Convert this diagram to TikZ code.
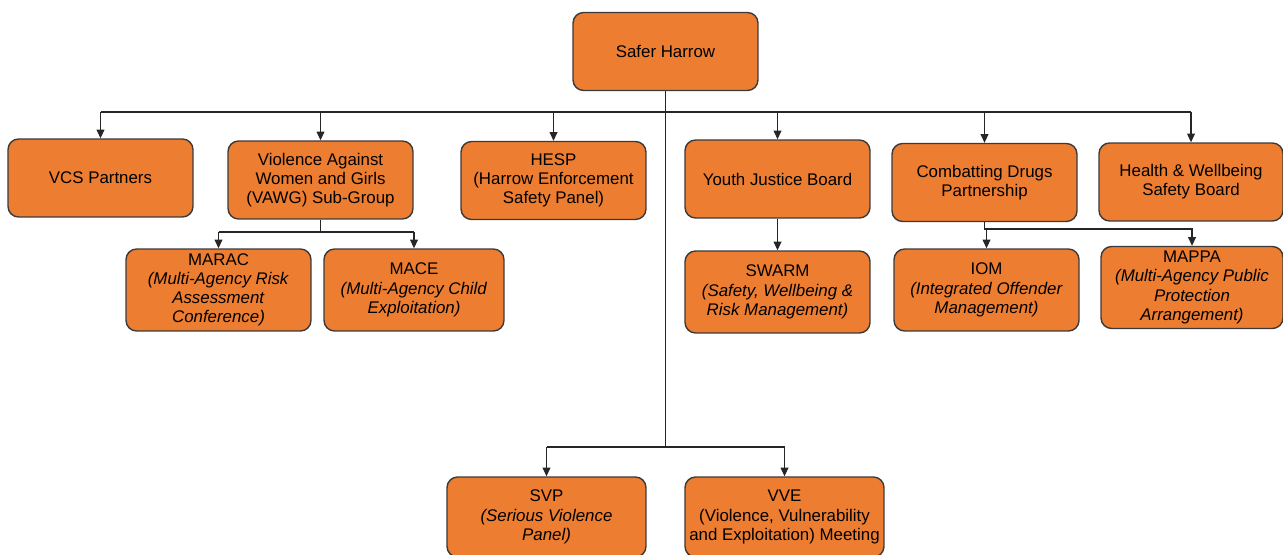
\documentclass[tikz,border=0pt]{standalone}
\usepackage{fontspec}
\setmainfont{Liberation Sans}
\usetikzlibrary{arrows.meta,positioning}
\definecolor{boxorange}{HTML}{ED7D31}
\definecolor{boxline}{HTML}{3A3A3A}

\begin{document}
\begin{tikzpicture}[x=0.02cm,y=-0.02cm,
    unit/.style={draw=boxline,fill=boxorange,line width=0.8pt,rounded corners=6pt,
        align=center,minimum width=3.7cm,minimum height=1.56cm,inner sep=2pt,
        font=\fontsize{9.6}{10.9}\selectfont},
    sub/.style={unit,minimum height=1.64cm},
    wire/.style={draw=black!85,line width=0.6pt},
    link/.style={wire,-{Triangle[length=5pt,width=4.5pt]}}]
            \useasboundingbox (0,0) rectangle (1283,554);

            % top
            \node [unit] (safer) at (665.5,51.5) {Safer Harrow};

            % first row
            \node [unit] (vcs) at (100.5,178) {VCS Partners};
            \node [unit] (vawg) at (320.5,180) {Violence Against\\Women and Girls\\(VAWG) Sub-Group};
            \node [unit] (hesp) at (553.5,180.5) {HESP\\(Harrow Enforcement\\Safety Panel)};
            \node [unit] (yjb) at (777.5,179) {Youth Justice Board};
            \node [unit] (drugs) at (984.5,182.5) {Combatting Drugs\\Partnership};
            \node [unit,minimum width=3.68cm] (health) at (1191,182) {Health \& Wellbeing\\Safety Board};

            % second row
            \node [sub] (marac) at (218.5,290) {MARAC\\\textit{(Multi-Agency Risk}\\\textit{Assessment}\\\textit{Conference)}};
            \node [sub,minimum width=3.6cm] (mace) at (414,290) {MACE\\\textit{(Multi-Agency Child}\\\textit{Exploitation)}};
            \node [sub] (swarm) at (777.5,292) {SWARM\\\textit{(Safety, Wellbeing \&}\\\textit{Risk Management)}};
            \node [sub] (iom) at (986.5,290) {IOM\\\textit{(Integrated Offender}\\\textit{Management)}};
            \node [sub,minimum width=3.64cm] (mappa) at (1192,287.5) {MAPPA\\\textit{(Multi-Agency Public}\\\textit{Protection}\\\textit{Arrangement)}};

            % bottom row
            \node [unit,minimum width=3.98cm,minimum height=1.6cm] (svp) at (546.5,517) {SVP\\\textit{(Serious Violence}\\\textit{Panel)}};
            \node [unit,minimum width=3.98cm,minimum height=1.6cm] (vve) at (784.5,517) {VVE\\(Violence, Vulnerability\\and Exploitation) Meeting};

            % connectors
            \coordinate (topbus) at (665.5,112);
            \coordinate (lowbus) at (665.5,447);
            \coordinate (vawgbus) at (320.5,232);
            \coordinate (drugsbus) at (984.5,229);

            \draw [wire] (safer.south) -- (lowbus);
            \draw [wire] (vcs.north |- topbus) -- (health.north |- topbus);
            \foreach \n in {vcs,vawg,hesp,yjb,drugs,health}
                \draw [link] (\n.north |- topbus) -- (\n.north);
            \draw [wire] (svp.north |- lowbus) -- (vve.north |- lowbus);
            \draw [link] (svp.north |- lowbus) -- (svp.north);
            \draw [link] (vve.north |- lowbus) -- (vve.north);

            \draw [wire] (vawg.south) -- (vawgbus);
            \draw [wire] (marac.north |- vawgbus) -- (mace.north |- vawgbus);
            \draw [link] (marac.north |- vawgbus) -- (marac.north);
            \draw [link] (mace.north |- vawgbus) -- (mace.north);
            \draw [link] (yjb.south) -- (swarm.north);
            \draw [link] (drugs.south) -- (drugsbus) -- (iom.north |- drugsbus) -- (iom.north);
            \draw [link] (drugsbus) -| (mappa.north);
\end{tikzpicture}
\end{document}
